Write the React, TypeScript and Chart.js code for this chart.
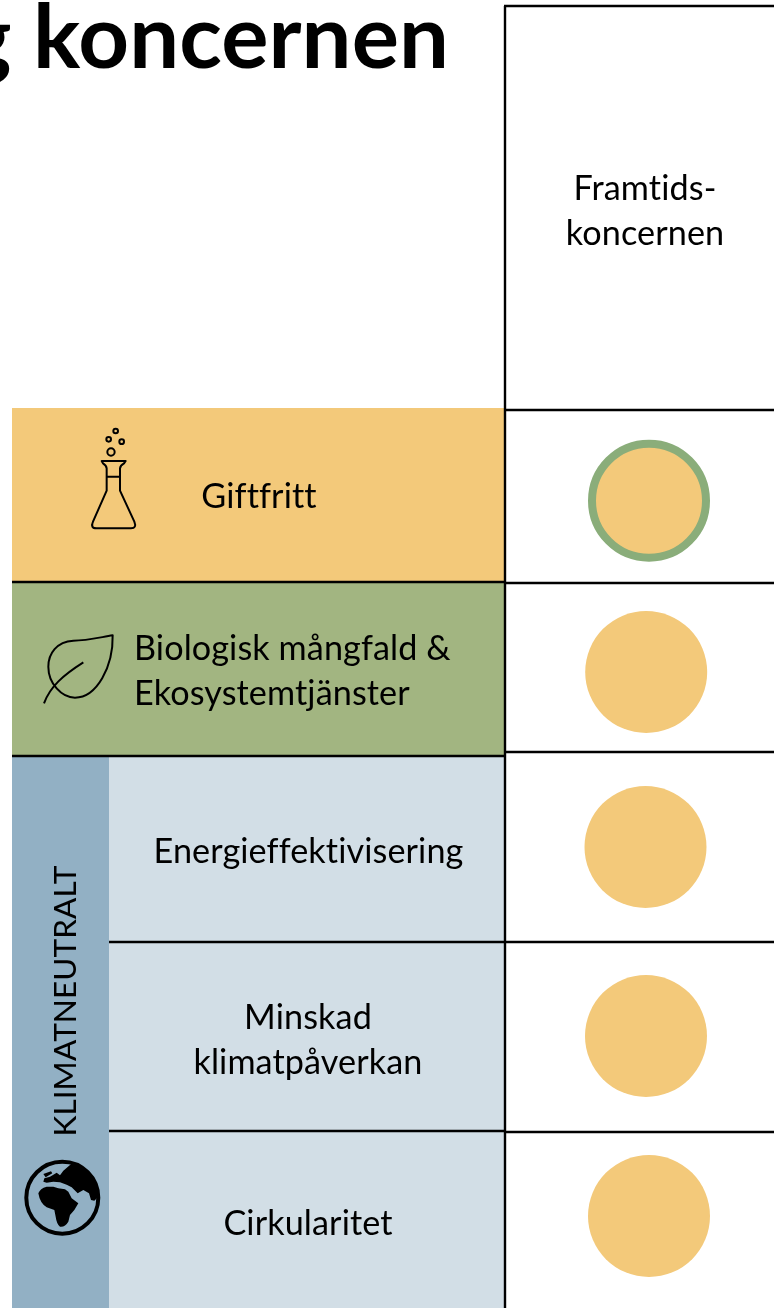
import React, { useEffect, useRef } from "react";
import { Chart, registerables } from "chart.js";

Chart.register(...registerables);

const WIDTH = 774;
const HEIGHT = 1308;

const titleText = "g koncernen";
const columnLines = ["Framtids-", "koncernen"];
const sideLabel = "KLIMATNEUTRALT";

const categories = [
  "Giftfritt",
  "Biologisk mångfald & Ekosystemtjänster",
  "Energieffektivisering",
  "Minskad klimatpåverkan",
  "Cirkularitet",
];
const circleX = [649, 646.2, 645.5, 646, 649];
const circleY = [500.7, 672, 847, 1036, 1216];
const circleR = [57, 61, 61, 61, 61];
const circleBorder = [8, 0, 0, 0, 0];

const ORANGE = "#F3C97A";
const GREEN = "#A2B581";
const BLUE = "#92B0C4";
const LIGHT = "#D2DEE6";
const RING = "#8AAD7A";
const FONT = "Lato, Carlito, 'Open Sans', sans-serif";

const bands: [number, number, number, number, string][] = [
  [12, 505, 408, 581, ORANGE],
  [12, 505, 581, 756, GREEN],
  [12, 109, 756, 1308, BLUE],
  [109, 505, 756, 1308, LIGHT],
];
const rules: [number, number, number, number][] = [
  [505, 6, 505, 1308],
  [504, 6, 774, 6],
  [505, 410, 774, 410],
  [505, 583, 774, 583],
  [505, 752, 774, 752],
  [505, 942, 774, 942],
  [505, 1132, 774, 1132],
  [12, 582, 505, 582],
  [12, 756, 505, 756],
  [109, 942, 505, 942],
  [109, 1131, 505, 1131],
];
const labels: [string, number, number, CanvasTextAlign][] = [
  ["Giftfritt", 259, 497, "center"],
  ["Biologisk mångfald &", 134, 649, "left"],
  ["Ekosystemtjänster", 134, 694, "left"],
  ["Energieffektivisering", 308.5, 852, "center"],
  ["Minskad", 308, 1018, "center"],
  ["klimatpåverkan", 308, 1063, "center"],
  ["Cirkularitet", 308, 1224, "center"],
];

// Icons, in 3x zoom coordinates
const flask =
  "M305 183 L377 183 L372 190 Q361 196 360 205 L360 272 L403 365 Q411 385 393 385 L290 385 Q270 385 279 365 L320 272 L320 205 Q319 196 309 190 Z M320 230 L360 230";
const bubbles: [number, number, number][] = [
  [333, 156, 11],
  [326, 118, 7],
  [365, 125, 7],
  [347, 93, 7],
];
const leaf =
  "M338 706 C300 712 260 722 220 722 C170 725 145 760 145 800 C145 850 185 893 225 893 C290 893 340 800 338 706 Z M132 910 C150 860 190 825 250 787";
const land =
  "M70 130 Q75 115 95 110 L115 110 L130 115 L150 118 L160 125 L170 145 L190 160 L178 180 L165 195 L160 215 Q150 232 135 230 Q125 222 122 200 L118 180 L95 172 Q75 160 70 130 Z " +
  "M145 62 L165 45 L195 42 L225 65 L245 100 L255 135 L238 152 L228 150 L222 130 L205 120 L188 130 L170 112 L155 104 L135 97 L115 95 L95 98 L85 95 L88 85 L105 80 L125 68 L135 76 Z " +
  "M85 72 L108 64 L112 70 L92 82 Z";

const tablePlugin = {
  id: "tablePlugin",
  beforeDatasetsDraw(chart: any) {
    const { ctx, scales } = chart;
    const X = (v: number) => scales.x.getPixelForValue(v);
    const Y = (v: number) => scales.y.getPixelForValue(v);
    ctx.save();
    bands.forEach(([x0, x1, y0, y1, c]) => {
      ctx.fillStyle = c;
      ctx.fillRect(X(x0), Y(y0), X(x1) - X(x0), Y(y1) - Y(y0));
    });
    ctx.strokeStyle = "#000";
    ctx.lineWidth = 2.4;
    rules.forEach(([x0, y0, x1, y1]) => {
      ctx.beginPath();
      ctx.moveTo(X(x0), Y(y0));
      ctx.lineTo(X(x1), Y(y1));
      ctx.stroke();
    });
    ctx.restore();
  },
  afterDatasetsDraw(chart: any) {
    const { ctx } = chart;
    ctx.save();
    ctx.fillStyle = "#000";
    ctx.textBaseline = "alphabetic";
    ctx.letterSpacing = "0.1px";

    ctx.font = `bold 88.5px ${FONT}`;
    ctx.textAlign = "right";
    ctx.fillText(titleText, 449, 68);

    ctx.font = `34.2px ${FONT}`;
    ctx.textBaseline = "middle";
    ctx.textAlign = "center";
    ctx.fillText(columnLines[0], 645, 189);
    ctx.fillText(columnLines[1], 645, 234);
    labels.forEach(([t, x, y, a]) => {
      ctx.textAlign = a;
      ctx.fillText(t, x, y);
    });

    ctx.save();
    ctx.font = `31.5px ${FONT}`;
    ctx.translate(65.5, 1001);
    ctx.rotate(-Math.PI / 2);
    ctx.textAlign = "center";
    ctx.fillText(sideLabel, 0, 0);
    ctx.restore();

    // Flask and leaf
    ctx.save();
    ctx.translate(0, 400);
    ctx.scale(1 / 3, 1 / 3);
    ctx.strokeStyle = "#000";
    ctx.lineWidth = 6;
    ctx.lineJoin = "round";
    ctx.stroke(new Path2D(flask));
    bubbles.forEach(([x, y, r]) => {
      ctx.beginPath();
      ctx.arc(x, y, r, 0, Math.PI * 2);
      ctx.stroke();
    });
    ctx.stroke(new Path2D(leaf));
    ctx.restore();

    // Globe
    ctx.save();
    ctx.strokeStyle = "#000";
    ctx.lineWidth = 4;
    ctx.beginPath();
    ctx.arc(62.3, 1197.7, 36, 0, Math.PI * 2);
    ctx.stroke();
    ctx.beginPath();
    ctx.arc(62.3, 1197.7, 36, 0, Math.PI * 2);
    ctx.clip();
    ctx.translate(15, 1150);
    ctx.scale(1 / 3, 1 / 3);
    ctx.fill(new Path2D(land));
    ctx.restore();
    ctx.restore();
  },
};

export default function App() {
  const ref = useRef<HTMLCanvasElement | null>(null);
  useEffect(() => {
    if (!ref.current) return;
    const chart = new Chart(ref.current, {
      type: "bubble",
      data: {
        datasets: [
          {
            label: "Framtidskoncernen",
            data: categories.map((_, i) => ({ x: circleX[i], y: circleY[i], r: circleR[i] })),
            backgroundColor: ORANGE,
            borderColor: RING,
            borderWidth: circleBorder,
            hoverRadius: 0,
            clip: false,
          } as any,
        ],
      },
      options: {
        responsive: false,
        animation: false,
        events: [],
        layout: { padding: 0, autoPadding: false },
        plugins: { legend: { display: false }, tooltip: { enabled: false }, title: { display: false } },
        scales: {
          x: { type: "linear", min: 0, max: WIDTH, display: false },
          y: { type: "linear", min: 0, max: HEIGHT, reverse: true, display: false },
        },
      },
      plugins: [tablePlugin],
    });
    return () => chart.destroy();
  }, []);
  return (
    <div style={{ position: "absolute", left: 0, top: 0, width: WIDTH, height: HEIGHT, overflow: "hidden", background: "#fff" }}>
      <canvas ref={ref} width={WIDTH} height={HEIGHT} style={{ display: "block" }} />
    </div>
  );
}
